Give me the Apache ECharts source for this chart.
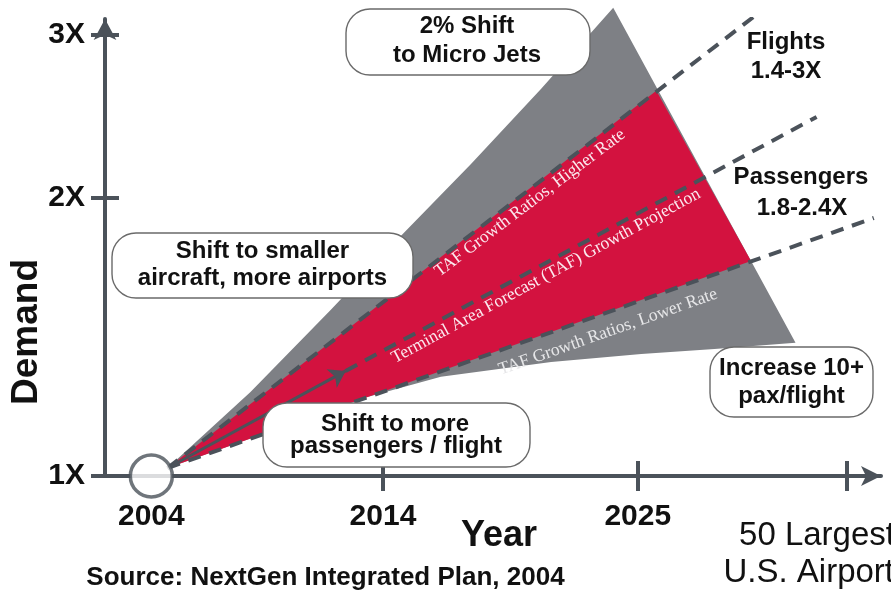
<!DOCTYPE html>
<html>
<head>
<meta charset="utf-8">
<script src="https://cdn.jsdelivr.net/npm/echarts@6.0.0/dist/echarts.min.js"></script>
<style>
  html, body { margin: 0; padding: 0; background: #ffffff; }
  #chart { width: 891px; height: 593px; }
</style>
</head>
<body>
<div id="chart"></div>
<script>
// ---- Axis ticks and labels ----
const yearTicks = [2014, 2025, 2034];
const yearLabels = [2004, 2014, 2025];
const demandTicks = [1, 2, 3];

// ---- Baseline: 2004 demand ----
const baseYear = [2004, 1];
const origin = [2004.7, 1.02];

// ---- Flights range (grey band) ----
// upper edge, from the 2004 origin to the top of the band
const flightsUpperYears  = [2004.7, 2008.28, 2011.74, 2014.77, 2017.80, 2020.83, 2023.94];
const flightsUpperDemand = [1.02,   1.233,   1.512,   1.818,   2.175,   2.622,   3.208];
// lower edge, from the far end back towards the origin
const flightsLowerYears  = [2031.81, 2028.31, 2025.15, 2021.26, 2016.50, 2013.17];
const flightsLowerDemand = [1.393,   1.372,   1.355,   1.328,   1.280,   1.214];

// ---- Passenger range (red band) ----
const paxYears  = [2004.7, 2025.80, 2029.89];
const paxDemand = [1.02,   2.609,   1.708];

// ---- TAF growth lines ----
const higherRateEnd   = [2030.34, 3.184];
const projectionStart = [2012.39, 1.299];
const projectionEnd   = [2032.72, 2.445];
const lowerRateEnd    = [2035.19, 1.901];

const zip = (xs, ys) => xs.map((x, i) => [x, ys[i]]);
const flightsBand = zip(flightsUpperYears, flightsUpperDemand).concat(zip(flightsLowerYears, flightsLowerDemand));
const paxBand = zip(paxYears, paxDemand);

const AXIS = '#4b525a';
const SANS = '"Liberation Sans", Arial, sans-serif';
const SERIF = '"Liberation Serif", "Times New Roman", serif';

function bandSeries(points, color, z) {
  return {
    type: 'custom',
    coordinateSystem: 'cartesian2d',
    z: z,
    silent: true,
    data: [origin],
    renderItem: (params, api) => ({
      type: 'polygon',
      shape: { points: points.map(p => api.coord(p)) },
      style: { fill: color }
    })
  };
}

function dashedLine(from, to) {
  return {
    type: 'lines',
    coordinateSystem: 'cartesian2d',
    z: 5,
    silent: true,
    data: [{ coords: [from, to] }],
    lineStyle: { color: AXIS, width: 4, type: [13, 9], opacity: 1 }
  };
}

function boxText(text, x, y, size, weight, extra) {
  return Object.assign({
    type: 'text', x: x, y: y, z: 101, silent: true,
    style: { text: text, fontFamily: SANS, fontSize: size, fontWeight: weight,
             fill: '#111111', align: 'center', verticalAlign: 'middle' }
  }, extra || {});
}

function box(x, y, w, h) {
  return { type: 'rect', z: 100, silent: true,
           shape: { x: x, y: y, width: w, height: h, r: 24 },
           style: { fill: '#ffffff', stroke: '#6a6a6a', lineWidth: 1.4 } };
}

function bandText(text, x, y, deg, color) {
  return { type: 'text', x: x, y: y, z: 60, silent: true, rotation: deg * Math.PI / 180,
           style: { text: text, fontFamily: SERIF, fontSize: 17.6, fill: color,
                    align: 'center', verticalAlign: 'middle' } };
}

const chart = echarts.init(document.getElementById('chart'), null, { renderer: 'canvas' });

const xBase = { type: 'value', position: 'bottom', min: 2002, max: 2035.5, splitLine: { show: false } };
const yBase = { type: 'log', logBase: 10, position: 'left', min: 1, max: 3.12, splitLine: { show: false } };

chart.setOption({
  animation: false,
  backgroundColor: '#ffffff',
  grid: { left: 105, right: 10, top: 19, bottom: 117, containLabel: false },
  xAxis: [
    Object.assign({}, xBase, {
      axisLine: { show: true, lineStyle: { color: AXIS, width: 4 }, symbol: ['none', 'arrow'], symbolSize: [15, 20] },
      axisTick: { show: true, customValues: yearTicks, length: 15, lineStyle: { color: AXIS, width: 4 } },
      axisLabel: { show: true, customValues: yearLabels, margin: 26, formatter: v => String(v),
                   fontFamily: SANS, fontSize: 30, fontWeight: 'bold', color: '#111111' }
    }),
    Object.assign({}, xBase, {
      axisLine: { show: false },
      axisTick: { show: true, inside: true, customValues: yearTicks, length: 15, lineStyle: { color: AXIS, width: 4 } },
      axisLabel: { show: false }
    })
  ],
  yAxis: [
    Object.assign({}, yBase, {
      axisLine: { show: true, lineStyle: { color: AXIS, width: 4 }, symbol: ['none', 'arrow'], symbolSize: [17, 21] },
      axisTick: { show: true, customValues: demandTicks, length: 14, lineStyle: { color: AXIS, width: 4 } },
      axisLabel: { show: true, customValues: demandTicks, margin: 20, formatter: v => v + 'X',
                   fontFamily: SANS, fontSize: 30, fontWeight: 'bold', color: '#111111' }
    }),
    Object.assign({}, yBase, {
      axisLine: { show: false },
      axisTick: { show: true, inside: true, customValues: demandTicks, length: 14, lineStyle: { color: AXIS, width: 4 } },
      axisLabel: { show: false }
    })
  ],
  series: [
    bandSeries(flightsBand, '#7e8085', 1),
    bandSeries(paxBand, '#d3123f', 2),
    dashedLine(origin, higherRateEnd),
    dashedLine(projectionStart, projectionEnd),
    dashedLine(origin, lowerRateEnd),
    {
      type: 'lines',
      coordinateSystem: 'cartesian2d',
      z: 6,
      silent: true,
      symbol: ['none', 'arrow'],
      symbolSize: [14, 16],
      data: [{ coords: [origin, projectionStart] }],
      lineStyle: { color: AXIS, width: 3, type: 'solid', opacity: 1 }
    },
    {
      type: 'scatter',
      z: 20,
      silent: true,
      clip: false,
      symbol: 'circle',
      symbolSize: 42,
      data: [baseYear],
      itemStyle: { color: '#ffffff', borderColor: AXIS, borderWidth: 3.5 }
    }
  ],
  graphic: [
    bandText('TAF Growth Ratios, Higher Rate', 530, 203, 37, '#fbe9ee'),
    bandText('Terminal Area Forecast (TAF) Growth Projection', 546, 276, 28.5, '#fbe9ee'),
    bandText('TAF Growth Ratios, Lower Rate', 608, 332, 19.5, '#e6e6e8'),

    box(346, 9, 244, 66),
    boxText('2% Shift', 467, 26.5, 24, 'bold'),
    boxText('to Micro Jets', 467, 55.5, 24, 'bold'),

    box(112, 233, 301, 65),
    boxText('Shift to smaller', 262.5, 251.5, 24, 'bold'),
    boxText('aircraft, more airports', 262.5, 278, 24, 'bold'),

    box(263, 403, 267, 64),
    boxText('Shift to more', 395, 424, 24, 'bold'),
    boxText('passengers / flight', 396, 446.5, 24, 'bold'),

    box(710, 347, 163, 70),
    boxText('Increase 10+', 791.5, 368.5, 24, 'bold'),
    boxText('pax/flight', 791.5, 396.5, 24, 'bold'),

    boxText('Flights', 786, 42, 24, 'bold'),
    boxText('1.4-3X', 786, 71.5, 24, 'bold'),
    boxText('Passengers', 801, 177.5, 24, 'bold'),
    boxText('1.8-2.4X', 802, 208.5, 24, 'bold'),

    boxText('Demand', 27, 332, 37, 'bold', { rotation: Math.PI / 2 }),
    boxText('Year', 499, 536.5, 36, 'bold'),
    boxText('Source: NextGen Integrated Plan, 2004', 325.5, 578, 26, 'bold'),
    boxText('50 Largest', 817, 535.5, 33, 'normal'),
    boxText('U.S. Airports', 817, 573, 33, 'normal')
  ]
});
</script>
</body>
</html>
